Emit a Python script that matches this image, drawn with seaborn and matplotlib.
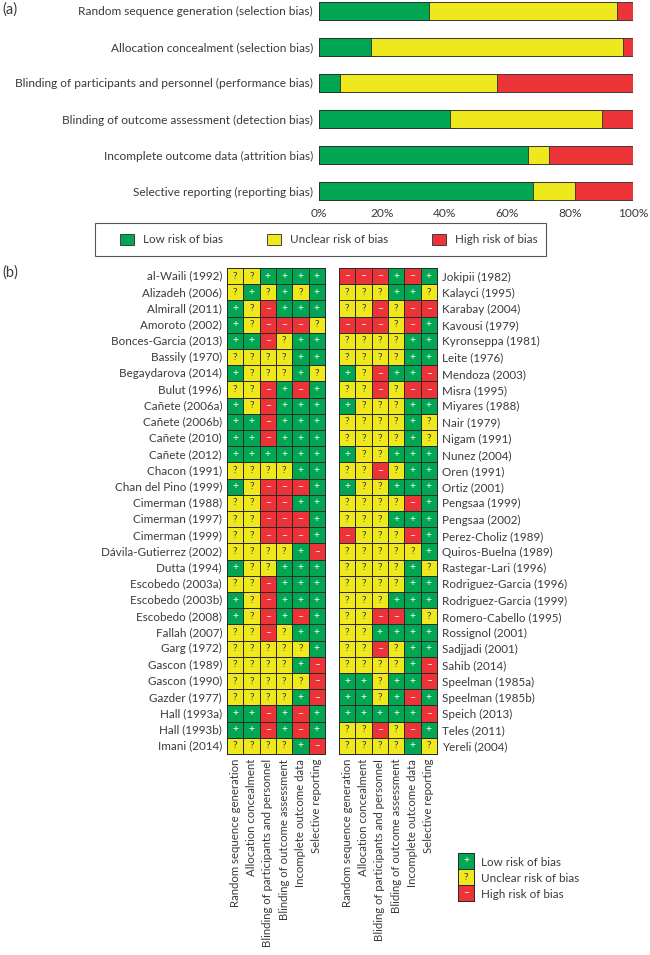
import matplotlib
matplotlib.use("Agg")
import matplotlib.pyplot as plt
import seaborn as sns
import pandas as pd
import numpy as np
from matplotlib.colors import ListedColormap
from matplotlib.patches import Patch, Rectangle

sns.set_theme(style="white")
plt.rcParams['font.family'] = ['Lato', 'DejaVu Sans']

GREEN = '#00a651'
YELLOW = '#eee81c'
RED = '#ec3338'
TXT = '#3a3a3a'
EDGE = '#2b2b2b'

# (a) сводка по доменам, % исследований
domains = [
    "Random sequence generation (selection bias)",
    "Allocation concealment (selection bias)",
    "Blinding of participants and personnel (performance bias)",
    "Blinding of outcome assessment (detection bias)",
    "Incomplete outcome data (attrition bias)",
    "Selective reporting (reporting bias)",
]
low = [35.0, 16.7, 6.7, 41.7, 66.7, 68.3]
unclear = [60.0, 80.0, 50.0, 48.3, 6.7, 13.3]
high = [5.0, 3.3, 43.3, 10.0, 26.7, 18.3]

# (b) оценки по исследованиям: + низкий, ? неясный, - высокий
studies_left = [
    "al-Waili (1992)", "Alizadeh (2006)", "Almirall (2011)", "Amoroto (2002)",
    "Bonces-Garcia (2013)", "Bassily (1970)", "Begaydarova (2014)", "Bulut (1996)",
    "Cañete (2006a)", "Cañete (2006b)", "Cañete (2010)", "Cañete (2012)",
    "Chacon (1991)", "Chan del Pino (1999)", "Cimerman (1988)", "Cimerman (1997)",
    "Cimerman (1999)", "Dávila-Gutierrez (2002)", "Dutta (1994)", "Escobedo (2003a)",
    "Escobedo (2003b)", "Escobedo (2008)", "Fallah (2007)", "Garg (1972)",
    "Gascon (1989)", "Gascon (1990)", "Gazder (1977)", "Hall (1993a)",
    "Hall (1993b)", "Imani (2014)",
]
judge_left = [
    "??++++", "?+?+?+", "+?-+++", "+?---?", "++-?++", "????++", "+???+?", "??-+-+",
    "+?-+++", "++-+++", "++-+++", "++++++", "????++", "+?---+", "??--++", "??---+",
    "??---+", "????+-", "+??+++", "??-+++", "+?-+++", "+?-+-+", "??-?++", "?????+",
    "????+-", "?????-", "????+-", "++-+-+", "++-+-+", "????+-",
]
studies_right = [
    "Jokipii (1982)", "Kalayci (1995)", "Karabay (2004)", "Kavousi (1979)",
    "Kyronseppa (1981)", "Leite (1976)", "Mendoza (2003)", "Misra (1995)",
    "Miyares (1988)", "Nair (1979)", "Nigam (1991)", "Nunez (2004)",
    "Oren (1991)", "Ortiz (2001)", "Pengsaa (1999)", "Pengsaa (2002)",
    "Perez-Choliz (1989)", "Quiros-Buelna (1989)", "Rastegar-Lari (1996)",
    "Rodriguez-Garcia (1996)", "Rodriguez-Garcia (1999)", "Romero-Cabello (1995)",
    "Rossignol (2001)", "Sadjjadi (2001)", "Sahib (2014)", "Speelman (1985a)",
    "Speelman (1985b)", "Speich (2013)", "Teles (2011)", "Yereli (2004)",
]
judge_right = [
    "---+-+", "???++?", "??-?--", "---?-+", "????++", "????++", "+?-++-", "??-?--",
    "+???++", "????+?", "????+?", "+??+++", "??-?++", "+??+++", "????-+", "???+++",
    "-???-+", "?????+", "????+?", "????++", "???+++", "??--+?", "??++++", "??-?++",
    "????+-", "++?++-", "++?+-+", "+++++-", "??-?-+", "????+?",
]
cols_left = [
    "Random sequence generation", "Allocation concealment",
    "Blinding of participants and personnel", "Blinding of outcome assessment",
    "Incomplete outcome data", "Selective reporting",
]
cols_right = [
    "Random sequence generation", "Allocation concealment",
    "Bliding of participants and personnel", "Bliding of outcome assessment",
    "Incomplete outcome data", "Selective reporting",
]
legend_labels = ["Low risk of bias", "Unclear risk of bias", "High risk of bias"]

code = {'+': 1, '?': 0, '-': -1}
sym = {'+': '+', '?': '?', '-': '–'}
cmap = ListedColormap([RED, YELLOW, GREEN])

W, H = 650, 955
fig = plt.figure(figsize=(6.5, 9.55), dpi=100)
renderer = fig.canvas.get_renderer()


def box(x0, y0, x1, y1):
    # пиксели -> доли фигуры
    return [x0 / W, 1 - y1 / H, (x1 - x0) / W, (y1 - y0) / H]


def fit_size(text, width_px):
    # подбор кегля по ширине строки на образце
    t = fig.text(0, 0, text, fontsize=10)
    w = t.get_window_extent(renderer=renderer).width
    t.remove()
    return 10 * width_px / w


fs_a = fit_size("Random sequence generation (selection bias)", 236)
fs_study = fit_size("Alizadeh (2006)", 80)
fs_cols = fit_size("Blinding of participants and personnel", 190)
fs_leg = fit_size("Unclear risk of bias", 97)

# ---- (a) ----
ax_a = fig.add_axes(box(319, 0, 633, 202))
df_a = pd.DataFrame({"domain": domains, "low": low, "unclear": unclear, "high": high})
df_a["lu"] = df_a["low"] + df_a["unclear"]
df_a["total"] = df_a["lu"] + df_a["high"]
for col, c in [("total", RED), ("lu", YELLOW), ("low", GREEN)]:
    sns.barplot(data=df_a, x=col, y="domain", color=c, saturation=1, width=0.5,
                edgecolor=EDGE, linewidth=0.6, ax=ax_a)
ax_a.set_xlim(0, 100)
ax_a.set_ylim(5.3, -0.3)
ax_a.set_xlabel("")
ax_a.set_ylabel("")
ax_a.set_xticks([0, 20, 40, 60, 80, 100])
ax_a.set_xticklabels([f"{v}%" for v in [0, 20, 40, 60, 80, 100]])
ax_a.tick_params(axis="both", length=0, labelsize=fs_a, labelcolor=TXT)
ax_a.tick_params(axis="y", pad=4.3)
ax_a.tick_params(axis="x", pad=4)
for s in ax_a.spines.values():
    s.set_visible(False)

handles = [Patch(facecolor=c, edgecolor=EDGE, linewidth=0.6) for c in [GREEN, YELLOW, RED]]
leg = fig.legend(handles, legend_labels, ncol=3, mode="expand", loc="center",
                 bbox_to_anchor=box(118, 223, 540, 256), fontsize=fs_leg,
                 handlelength=1.15, handleheight=1.15, handletextpad=0.8,
                 borderpad=0.2, frameon=False, borderaxespad=0)
for t in leg.get_texts():
    t.set_color(TXT)
fig.patches.append(Rectangle((95 / W, 1 - 256 / H), (546 - 95) / W, 33 / H,
                             transform=fig.transFigure, fill=False,
                             edgecolor="#555555", linewidth=0.8))

fig.text(2 / W, 1 - 10 / H, "(a)", fontsize=10.5, color=TXT, va="center")
fig.text(2 / W, 1 - 273 / H, "(b)", fontsize=10.5, color=TXT, va="center")


# ---- (b) ----
def grid(ax, studies, judges, cols, right=False):
    codes = np.array([[code[ch] for ch in j] for j in judges])
    ann = np.array([[sym[ch] for ch in j] for j in judges])
    df = pd.DataFrame(codes, index=studies, columns=cols)
    sns.heatmap(df, ax=ax, cmap=cmap, vmin=-1.5, vmax=1.5, cbar=False,
                annot=ann, fmt="", annot_kws={"fontsize": 7.5},
                linewidths=0.7, linecolor=EDGE,
                xticklabels=True, yticklabels=True)
    ax.collections[0].set_clip_on(False)
    for t in ax.texts:
        if t.get_text() == "?":
            t.set_color("#333333")
        else:
            t.set_color("white")
    ax.set_xticklabels(cols, rotation=90, fontsize=fs_cols, color=TXT)
    ax.set_yticklabels(studies, rotation=0, fontsize=fs_study, color=TXT)
    ax.tick_params(axis="y", length=0, pad=3.6)
    ax.tick_params(axis="x", length=0, pad=3.5)
    if right:
        ax.yaxis.tick_right()
    ax.set_xlabel("")
    ax.set_ylabel("")


ax_l = fig.add_axes(box(227, 268, 325, 754))
grid(ax_l, studies_left, judge_left, cols_left)
ax_r = fig.add_axes(box(339, 268, 437, 754))
grid(ax_r, studies_right, judge_right, cols_right, right=True)

ax_k = fig.add_axes(box(458, 853, 474, 901))
grid(ax_k, legend_labels, ["+", "?", "-"], [""], right=True)
ax_k.set_yticklabels(legend_labels, rotation=0, fontsize=fs_leg, color=TXT)
ax_k.tick_params(axis="y", pad=5)
ax_k.set_xticks([])

fig.savefig("out.png", dpi=100, facecolor="white")
